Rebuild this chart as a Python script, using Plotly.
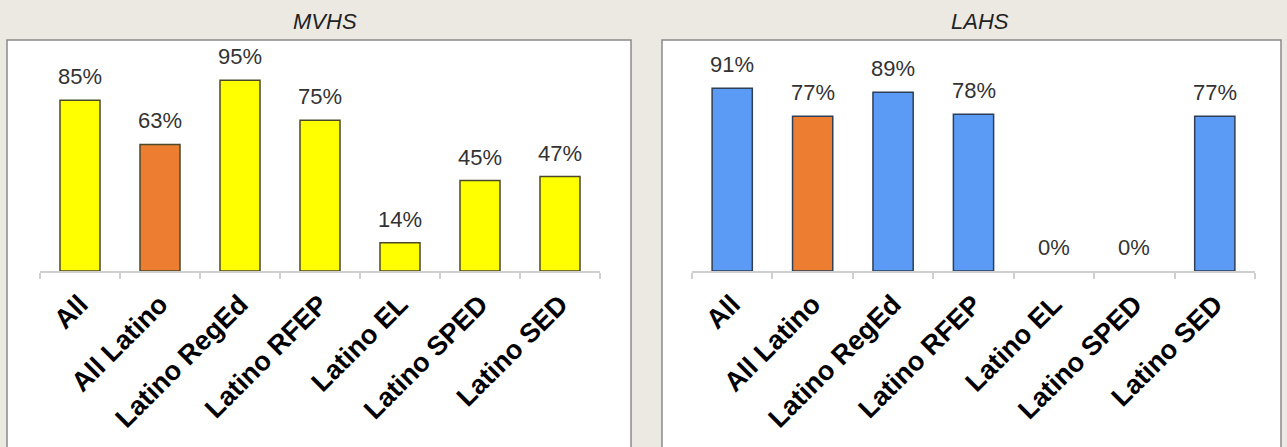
import plotly.graph_objects as go

W, H = 1287, 447

categories = ["All", "All Latino", "Latino RegEd", "Latino RFEP",
              "Latino EL", "Latino SPED", "Latino SED"]
mvhs_values = [85, 63, 95, 75, 14, 45, 47]
lahs_values = [91, 77, 89, 78, 0, 0, 77]
school_names = ["MVHS", "LAHS"]

YELLOW = "#FFFF00"
ORANGE = "#ED7D31"
BLUE = "#5B9BF5"
BG = "#ECE9E3"


def px_x(p):
    return p / W


def px_y(p):
    return (H - p) / H


def bar_colors(base):
    return [ORANGE if c == "All Latino" else base for c in categories]


def outline_widths(vals):
    # empty bars get no outline so nothing is drawn on the axis
    return [1.5 if v > 0 else 0 for v in vals]


fig = go.Figure()

fig.add_trace(go.Bar(
    x=categories, y=mvhs_values, xaxis="x", yaxis="y",
    marker=dict(color=bar_colors(YELLOW),
                line=dict(color="#4a4a2a", width=outline_widths(mvhs_values))),
    width=0.5, hoverinfo="skip",
))
fig.add_trace(go.Bar(
    x=categories, y=lahs_values, xaxis="x2", yaxis="y2",
    marker=dict(color=bar_colors(BLUE),
                line=dict(color="#2f3f55", width=outline_widths(lahs_values))),
    width=0.5, hoverinfo="skip",
))

# value labels above each bar
annotations = []
for xref, yref, vals in (("x", "y", mvhs_values), ("x2", "y2", lahs_values)):
    for c, v in zip(categories, vals):
        annotations.append(dict(
            x=c, y=v, xref=xref, yref=yref, text=f"{v}%",
            showarrow=False, yanchor="bottom", yshift=9,
            font=dict(family="Liberation Sans, Arial", size=22, color="#333333"),
        ))

# panel titles
for name, cx in zip(school_names, (325, 980)):
    annotations.append(dict(
        x=px_x(cx), y=px_y(22), xref="paper", yref="paper", text=f"<i>{name}</i>",
        showarrow=False, xanchor="center", yanchor="middle",
        font=dict(family="Liberation Sans, Arial", size=22, color="#222222"),
    ))

# white framed panels behind each chart
shapes = []
for x0, x1 in ((7, 631), (662, 1281)):
    shapes.append(dict(
        type="rect", xref="paper", yref="paper", layer="below",
        x0=px_x(x0), x1=px_x(x1), y0=-0.02, y1=px_y(40),
        fillcolor="white", line=dict(color="#8a8a8a", width=1.5),
    ))

xaxis_common = dict(
    type="category", range=[-0.5, 6.5], showline=True, linecolor="#cfcfcf",
    linewidth=1.5, ticks="outside", tickson="boundaries", ticklen=6,
    tickcolor="#cfcfcf", tickwidth=1.5, tickangle=-45, showgrid=False,
    ticklabelstandoff=5,
    tickfont=dict(family="Liberation Sans, Arial", size=27, color="#000000",
                  weight="bold"),
    fixedrange=True,
)
yaxis_common = dict(
    range=[0, 110], showgrid=False, showticklabels=False, zeroline=False,
    showline=False, domain=[px_y(271), px_y(50)], fixedrange=True,
)

fig.update_layout(
    width=W, height=H,
    margin=dict(l=0, r=0, t=0, b=0),
    paper_bgcolor=BG, plot_bgcolor="rgba(0,0,0,0)",
    showlegend=False,
    xaxis=dict(domain=[px_x(40), px_x(600)], anchor="y", **xaxis_common),
    yaxis=dict(anchor="x", **yaxis_common),
    xaxis2=dict(domain=[px_x(692), px_x(1255)], anchor="y2", **xaxis_common),
    yaxis2=dict(anchor="x2", **yaxis_common),
    annotations=annotations,
    shapes=shapes,
    bargap=0.5,
)

fig.write_html("out.html")
